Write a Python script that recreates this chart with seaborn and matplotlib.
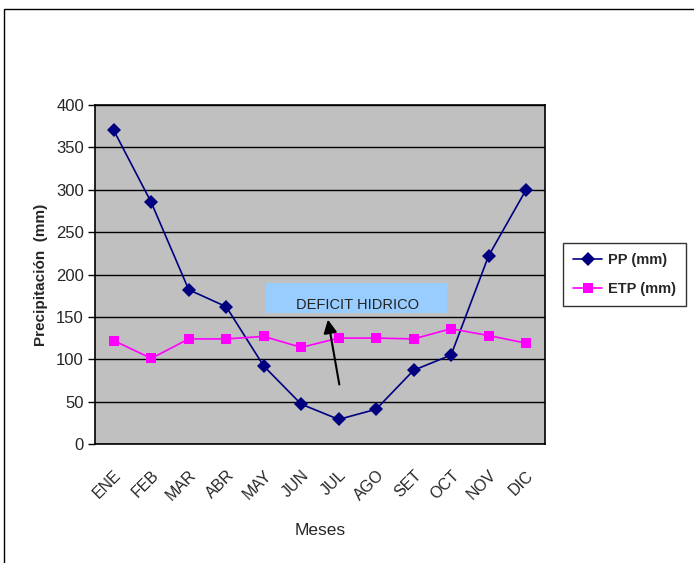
import numpy as np
import pandas as pd
import matplotlib
matplotlib.use('Agg')
import matplotlib.pyplot as plt
import seaborn as sns
from matplotlib.patches import Rectangle

meses = ['ENE', 'FEB', 'MAR', 'ABR', 'MAY', 'JUN', 'JUL', 'AGO', 'SET', 'OCT', 'NOV', 'DIC']
pp = [370, 285, 182, 162, 92, 47, 29, 41, 87, 105, 222, 300]
etp = [122, 101, 124, 124, 127, 114, 125, 125, 124, 136, 128, 119]

df = pd.DataFrame({
    'Mes': meses * 2,
    'valor': pp + etp,
    'serie': ['PP (mm)'] * 12 + ['ETP (mm)'] * 12,
})

sns.set_style('white')
plt.rcParams['font.family'] = ['Liberation Sans', 'DejaVu Sans']

fig = plt.figure(figsize=(6.94, 5.63), dpi=100)
ax = fig.add_axes([0.137, 0.2114, 0.648, 0.602])
ax.set_facecolor('#C0C0C0')

# marco del area del grafico
fig.patches.append(Rectangle((4 / 694, -0.01), 1.0, 1 - 9 / 563 + 0.01,
                             transform=fig.transFigure, fill=False,
                             edgecolor='black', linewidth=1.0))

sns.lineplot(data=df, x='Mes', y='valor', hue='serie', style='serie',
             palette={'PP (mm)': '#000080', 'ETP (mm)': '#FF00FF'},
             markers={'PP (mm)': 'D', 'ETP (mm)': 's'},
             dashes=False, linewidth=1.2, markersize=7, markeredgewidth=0,
             sort=False, ax=ax, legend=True)

ax.set_xlim(-0.5, 11.5)
ax.set_ylim(0, 400)
ax.set_yticks(np.arange(0, 401, 50))
ax.yaxis.grid(True, color='black', linewidth=1.0)
ax.set_axisbelow(True)
for s in ax.spines.values():
    s.set_color('black')
    s.set_linewidth(1.2)

ax.set_xticks(range(12))
ax.set_xticklabels(meses, rotation=45, ha='right', rotation_mode='anchor', fontsize=11.5)
ax.set_xticks(np.arange(-0.5, 12, 1), minor=True)
ax.tick_params(axis='x', which='major', length=0, pad=17)
ax.tick_params(axis='x', which='minor', length=5, width=1, color='black', direction='out')
ax.tick_params(axis='y', length=5, width=1, color='black', direction='out', left=True, labelsize=12, pad=3)

ax.set_xlabel('Meses', fontsize=12.5, labelpad=14)
ax.set_ylabel('Precipitación  (mm)', fontsize=11, fontweight='bold', labelpad=6)

# cuadro de anotacion
box = Rectangle((4.05, 155), 4.85, 35, facecolor='#99CCFF', edgecolor='none', zorder=3)
ax.add_patch(box)
t = ax.text(6.5, 172, 'DEFICIT HIDRICO', ha='center', va='top', fontsize=10.5,
            color='#222222', zorder=4)
t.set_clip_path(box)
ax.annotate('', xy=(5.7, 150), xytext=(6.03, 67),
            arrowprops=dict(arrowstyle='-|>', color='black', lw=1.5, mutation_scale=20),
            zorder=5)

leg = ax.legend(loc='upper left', bbox_to_anchor=(563 / 694, (563 - 243) / 563),
                bbox_transform=fig.transFigure, frameon=True, fancybox=False,
                edgecolor='black', prop={'weight': 'bold', 'size': 10.5},
                handlelength=2.0, handletextpad=0.4, borderpad=0.7,
                labelspacing=1.0, borderaxespad=0)
leg.get_frame().set_linewidth(1.0)

fig.savefig('out.png', dpi=100)
